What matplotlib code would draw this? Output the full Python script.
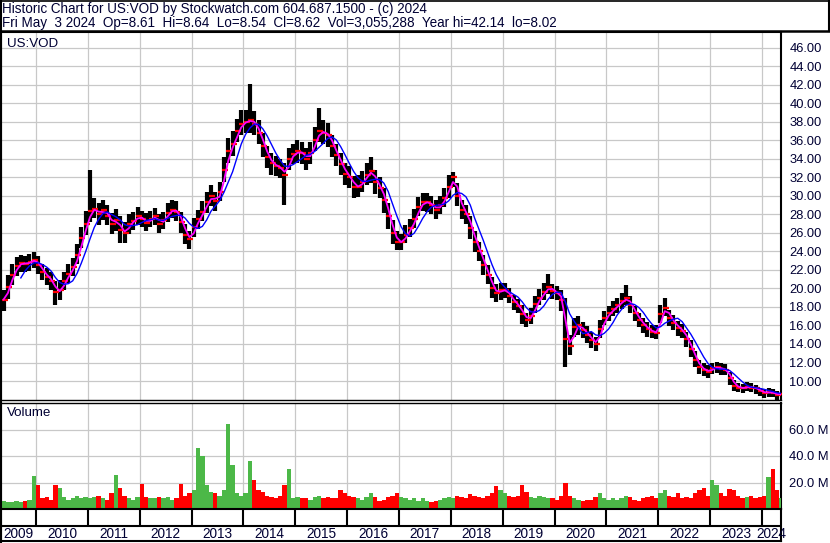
# -*- coding: utf-8 -*-
import numpy as np
import pandas as pd
import matplotlib
matplotlib.use('Agg')
from matplotlib import pyplot as plt
from matplotlib.lines import Line2D

plt.rcParams['font.family'] = ['Liberation Sans', 'DejaVu Sans']

# monthly bars, May 2009 .. May 2024
close = [18.8, 20.2, 21.5, 22.4, 22.8, 22.6, 22.9, 23.1,
         22.5, 21.8, 21.2, 20.8, 19.6, 19.8, 20.8, 21.6, 22.3, 23.6, 25.4, 27.0,
         28.4, 28.6, 28.0, 28.5, 27.8, 27.0, 27.4, 26.3, 26.0, 27.0, 27.3, 27.8,
         27.5, 27.1, 27.5, 27.8, 27.0, 27.4, 28.2, 28.5, 28.3, 27.2, 25.8, 25.3,
         26.6, 27.5, 28.3, 29.3, 30.0, 29.4, 30.4, 32.8, 34.8, 35.6, 37.0, 37.8,
         38.0, 38.2, 37.8, 36.8, 35.4, 34.2, 33.5, 33.2, 33.0, 32.2, 34.0, 34.5,
         34.8, 34.6, 34.0, 34.6, 36.0, 37.0, 36.8, 36.6, 35.4, 34.4, 33.4, 32.4,
         32.0, 31.0, 31.0, 31.5, 32.3, 32.7, 31.5, 30.9, 29.5, 27.8, 26.0, 25.0,
         25.0, 25.8, 26.5, 27.5, 28.8, 29.3, 29.3, 29.0, 28.5, 29.0, 29.8, 31.0,
         32.0, 30.0, 28.5, 28.0, 26.5, 25.0, 24.0, 22.5, 21.5, 20.0, 19.5, 19.8,
         19.8, 19.2, 18.5, 18.1, 17.2, 16.6, 17.0, 18.3, 19.0, 19.6, 20.2, 19.7,
         19.5, 18.8, 14.5, 13.8, 15.8, 16.0, 15.5, 15.0, 14.4, 14.0, 15.6, 16.8,
         17.3, 17.8, 18.2, 18.6, 19.0, 18.2, 17.3, 16.6, 16.0, 15.6, 15.3, 15.2,
         17.2, 17.9, 16.8, 16.3, 15.7, 15.4, 14.5, 13.5, 12.3, 11.5, 11.2, 11.0,
         11.4, 11.5, 11.3, 11.2, 10.3, 9.5, 9.3, 9.2, 9.4, 9.3, 9.2, 8.9,
         8.7, 8.8, 8.7, 8.5, 8.62]
high = [19.8, 21.5, 22.6, 23.4, 23.6, 23.5, 23.7, 23.9,
        23.5, 22.6, 22.2, 21.8, 20.8, 20.9, 21.8, 22.6, 23.3, 24.8, 26.6, 28.4,
        32.8, 29.8, 29.2, 29.6, 29.0, 28.2, 28.6, 27.8, 27.2, 28.0, 28.3, 28.8,
        28.4, 28.1, 28.4, 28.7, 28.0, 28.3, 29.2, 29.5, 29.4, 28.3, 27.0, 26.2,
        27.6, 28.5, 29.4, 30.4, 31.2, 30.4, 31.5, 34.2, 36.2, 37.0, 38.3, 39.3,
        39.3, 42.1, 39.2, 38.2, 36.8, 35.4, 34.6, 34.3, 34.0, 33.6, 35.2, 35.6,
        36.0, 35.8, 35.2, 35.8, 37.4, 39.5, 38.2, 37.9, 36.6, 35.6, 34.6, 33.6,
        33.2, 32.1, 32.2, 32.7, 33.5, 34.2, 32.8, 32.0, 30.8, 29.2, 27.4, 26.2,
        25.9, 26.8, 27.5, 28.6, 29.9, 30.3, 30.3, 30.0, 29.5, 30.0, 30.9, 32.2,
        32.6, 31.4, 29.6, 29.0, 27.8, 26.2, 25.0, 23.6, 22.5, 21.2, 20.5, 20.6,
        20.6, 20.0, 19.3, 18.9, 18.2, 17.4, 17.9, 19.2, 19.9, 20.6, 21.6, 20.5,
        20.3, 19.8, 19.0, 15.0, 16.8, 17.0, 16.4, 15.9, 15.3, 14.8, 16.6, 17.6,
        18.1, 18.6, 19.0, 19.5, 20.4, 19.2, 18.1, 17.4, 16.8, 16.4, 16.1, 16.0,
        18.2, 19.0, 17.7, 17.1, 16.5, 16.2, 15.3, 14.4, 13.2, 12.3, 11.9, 11.7,
        12.0, 12.1, 11.9, 11.8, 11.0, 10.1, 9.8, 9.7, 9.9, 9.8, 9.6, 9.3,
        9.1, 9.2, 9.1, 8.9, 8.64]
low = [17.6, 18.9, 20.4, 21.3, 21.8, 21.8, 21.9, 22.2,
       21.6, 20.9, 20.4, 19.8, 18.2, 18.8, 19.8, 20.6, 21.3, 22.6, 24.4, 25.8,
       27.2, 27.6, 26.9, 27.4, 26.8, 25.9, 26.2, 24.9, 24.9, 25.9, 26.3, 26.9,
       26.6, 26.2, 26.6, 26.9, 26.0, 26.4, 27.2, 27.6, 27.3, 26.0, 24.8, 24.3,
       25.6, 26.4, 27.3, 28.2, 28.9, 28.4, 29.4, 31.5, 33.6, 34.3, 35.8, 36.6,
       36.8, 36.8, 36.6, 35.6, 34.2, 33.0, 32.3, 32.1, 31.9, 29.0, 32.8, 33.4,
       33.6, 33.4, 32.8, 33.4, 34.8, 35.8, 35.6, 35.3, 34.2, 33.2, 32.2, 31.2,
       30.8, 29.8, 29.9, 30.4, 31.2, 31.4, 30.2, 29.8, 28.2, 26.4, 24.8, 24.2,
       24.1, 24.9, 25.6, 26.5, 27.8, 28.4, 28.3, 28.0, 27.5, 28.0, 28.8, 29.8,
       31.0, 28.9, 27.5, 27.0, 25.3, 23.9, 23.0, 21.5, 20.5, 19.0, 18.5, 18.8,
       19.0, 18.4, 17.7, 17.3, 16.2, 15.8, 16.2, 17.4, 18.2, 18.8, 19.4, 18.9,
       18.7, 17.6, 11.5, 12.8, 14.8, 15.0, 14.6, 14.1, 13.6, 13.2, 14.6, 16.0,
       16.5, 17.0, 17.4, 17.8, 18.2, 17.3, 16.5, 15.8, 15.2, 14.8, 14.6, 14.5,
       16.3, 17.0, 15.9, 15.5, 14.9, 14.6, 13.7, 12.6, 11.5, 10.8, 10.5, 10.3,
       10.8, 10.9, 10.7, 10.6, 9.6, 8.9, 8.8, 8.7, 8.9, 8.8, 8.6, 8.4,
       8.2, 8.3, 8.3, 8.0, 8.54]
# volume, millions
volume = [6, 5, 5, 6, 5, 6, 7, 25,
          18, 8, 9, 7, 18, 16, 9, 7, 8, 10, 8, 9,
          8, 9, 10, 8, 7, 12, 26, 16, 10, 8, 7, 9,
          19, 9, 8, 8, 9, 8, 9, 7, 8, 19, 10, 12,
          14, 46, 40, 18, 13, 12, 10, 14, 64, 33, 12, 10,
          12, 36, 22, 14, 13, 10, 9, 8, 10, 18, 30, 8,
          9, 8, 8, 7, 9, 10, 8, 9, 8, 8, 14, 12,
          10, 9, 8, 7, 9, 12, 9, 6, 7, 9, 10, 12,
          9, 8, 7, 8, 6, 8, 6, 5, 6, 7, 8, 9,
          8, 10, 9, 8, 11, 10, 9, 8, 10, 12, 17, 14,
          12, 10, 9, 10, 18, 13, 9, 8, 10, 9, 8, 8,
          7, 10, 20, 10, 8, 7, 6, 7, 7, 9, 12, 8,
          7, 8, 7, 8, 10, 9, 7, 6, 8, 9, 10, 8,
          12, 14, 10, 9, 12, 8, 9, 8, 12, 14, 16, 10,
          22, 18, 12, 10, 15, 14, 10, 8, 9, 10, 8, 9,
          10, 24, 30, 14, 8]
years = list(range(2009, 2025))

header1 = 'Historic Chart for US:VOD by Stockwatch.com 604.687.1500 - (c) 2024'
header2 = ('Fri May  3 2024  Op=8.61  Hi=8.64  Lo=8.54  Cl=8.62  '
           'Vol=3,055,288  Year hi=42.14  lo=8.02')

months = pd.date_range('2009-05-01', periods=len(close), freq='MS')
t = np.asarray(months.year + (months.month - 0.5) / 12.0)
c = pd.Series(close)
ma_fast = c.rolling(2, min_periods=1).mean()
ma_slow = c.rolling(5).mean()
up = np.r_[True, np.diff(close) >= 0]
vcol = np.where(up, '#4cb848', '#ff0000')

W, H = 830, 543
fig = plt.figure(figsize=(8.3, 5.43), dpi=100)
fig.patch.set_facecolor('white')
txtc = '#000033'
xl = (2009.326, 2024.366)


def box(x0, y0, x1, y1):
    # pixel box -> figure fraction rect
    return [x0 / W, 1 - y1 / H, (x1 - x0) / W, (y1 - y0) / H]


ax1 = fig.add_axes(box(1, 32, 781, 400))
ax2 = fig.add_axes(box(1, 403, 781, 509))
ax3 = fig.add_axes(box(1, 509, 781, 541))

# price panel
ax1.vlines(t, low, high, color='black', lw=3.0, zorder=3)
ax1.plot(t + 0.02, close, ls='none', marker='_', ms=4, mew=1.6,
         color='red', zorder=4)
ax1.plot(t, ma_fast, color='#ff00ff', lw=1.3, zorder=5)
ax1.plot(t, ma_slow, color='#0000ff', lw=1.0, zorder=6)
ax1.set_xlim(*xl)
ax1.set_ylim(7.95, 47.7)
ax1.set_yticks(np.arange(10, 47, 2))
ax1.set_yticklabels(['%.2f' % v for v in np.arange(10, 47, 2)])
ax1.set_xticks(years[1:])
ax1.text(0.008, 0.985, 'US:VOD', transform=ax1.transAxes, va='top',
         ha='left', fontsize=9.6, color=txtc)

# volume panel
ax2.bar(t, volume, width=1 / 12.0, color=vcol, linewidth=0, zorder=3)
ax2.set_xlim(*xl)
ax2.set_ylim(0, 80)
ax2.set_yticks([20, 40, 60])
ax2.set_yticklabels(['20.0 M', '40.0 M', '60.0 M'])
ax2.set_xticks(years[1:])
ax2.text(0.008, 0.96, 'Volume', transform=ax2.transAxes, va='top',
         ha='left', fontsize=9.6, color=txtc)

for ax in (ax1, ax2):
    ax.grid(True, color='#c8c8c8', lw=0.9, zorder=0)
    ax.yaxis.tick_right()
    ax.tick_params(axis='y', length=0, pad=6, labelsize=9.3, labelcolor=txtc)
    ax.tick_params(axis='x', length=0, labelbottom=False)
    for s in ax.spines.values():
        s.set_color('black')
        s.set_linewidth(1.5)
ax1.spines['bottom'].set_linewidth(1.0)
ax2.spines['top'].set_linewidth(1.0)

# date strip
ax3.set_xlim(*xl)
ax3.set_ylim(0, 1)
ax3.axhline(0.47, color='black', lw=1.5)
ax3.vlines(years[1:], 0.47, 1, color='black', lw=1.5)
for y in years:
    a, b = max(y, xl[0]), min(y + 1, xl[1])
    ax3.text((a + b) / 2, 0.22, str(y), ha='center', va='center',
             fontsize=9.8, color=txtc, clip_on=False)
ax3.set_xticks([])
ax3.set_yticks([])
for s in ax3.spines.values():
    s.set_color('black')
    s.set_linewidth(1.5)

# header
fig.text(2 / W, 1 - 8.5 / H, header1, ha='left', va='center',
         fontsize=9.75, color=txtc)
fig.text(2 / W, 1 - 22.5 / H, header2, ha='left', va='center',
         fontsize=9.75, color=txtc)
fig.add_artist(Line2D([0, 1], [1 - 31 / H] * 2, color='black', lw=1.8))
fig.add_artist(Line2D([0, 1], [1 - 0.6 / H] * 2, color='black', lw=1.2))
fig.add_artist(Line2D([1 - 1 / W] * 2, [1 - 31 / H, 1], color='black', lw=1.5))
fig.add_artist(Line2D([0.6 / W] * 2, [0, 1], color='black', lw=1.5))

fig.savefig('out.png', dpi=100)
